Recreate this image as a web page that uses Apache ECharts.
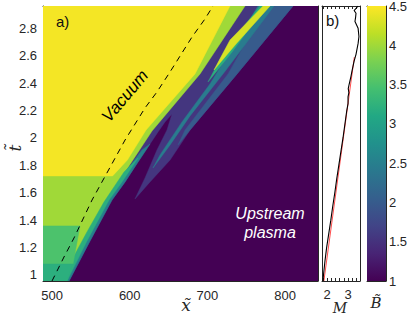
<!DOCTYPE html>
<html><head><meta charset="utf-8">
<script src="https://cdn.jsdelivr.net/npm/echarts@6/dist/echarts.min.js"></script>
<style>html,body{margin:0;padding:0;background:#fff}#c{width:409px;height:315px}</style>
</head><body><div id="c"></div>
<script>
// ---- axis ranges and ticks ----
const xRange = [488.4, 842.3];
const tRange = [0.956, 2.963];
const mRange = [1.76, 3.57];
const bRange = [1, 4.5];
const xTicks = [500, 600, 700, 800];
const tTicks = [1, 1.2, 1.4, 1.6, 1.8, 2, 2.2, 2.4, 2.6, 2.8];
const mTicks = [2, 3];
const mMinorTicks = [1.8, 2, 2.2, 2.4, 2.6, 2.8, 3, 3.2, 3.4];

// ---- contour patches of B (x, t) ----
const upstreamPlasma = [[488.4,0.956],[842.3,0.956],[842.3,2.963],[488.4,2.963]];
const shockedRegion = [[488.4,2.963],[810.2,2.963],[738.1,2.467],[677.6,2.058],[651.9,1.839],[626.1,1.679],[606.8,1.555],[619.7,1.708],[635.1,1.912],[648,2.058],[654.4,2.175],[645.4,2.117],[636.4,2.044],[610.7,1.825],[594,1.679],[577.2,1.547],[548.9,1.248],[521.9,0.956],[488.4,0.956]];
const outerBlueBand = [[775.4,2.963],[810.2,2.963],[738.1,2.467],[677.6,2.058],[662.2,1.949],[671.2,2.058],[726.5,2.467]];
const tealBand = [[765.1,2.963],[785.7,2.963],[724,2.496],[677.6,2.161],[651.9,1.949],[630,1.781],[639,1.876],[667.3,2.117],[703.3,2.394]];
const cyanBand = [[767.7,2.963],[775.4,2.963],[731.7,2.628],[700.8,2.409],[722.7,2.642]];
const yellowStripe = [[771.6,2.963],[780.6,2.963],[736.8,2.686],[708.5,2.496],[729.1,2.715]];
const pistonGreen = [[488.4,2.963],[748.4,2.963],[690.5,2.467],[628.7,2.051],[594,1.752],[568.2,1.533],[546.3,1.314],[529.6,1.139],[518,0.956],[488.4,0.956]];
const wedgeOuter = [[626.1,1.956],[610.7,1.825],[594,1.679],[577.2,1.547],[548.9,1.248],[521.9,0.956],[515.4,0.956],[542.5,1.248],[568.2,1.533],[592.7,1.737],[615.8,1.912]];
const wedgeInner = [[610.7,1.854],[590.1,1.679],[573.4,1.547],[545,1.248],[519.3,0.956],[512.9,0.956],[528.3,1.139],[545,1.314],[566.9,1.533],[592.7,1.752]];
const vacuumYellow = [[488.4,2.963],[729,2.963],[684,2.467],[621,2.058],[597,1.839],[578,1.723],[488.4,1.723]];
const vacuumBand3 = [[488.4,1.358],[536,1.358],[527,1.080],[488.4,1.080]];
const vacuumBand4 = [[488.4,1.080],[527,1.080],[519.3,0.956],[488.4,0.956]];

const patchList = [upstreamPlasma, shockedRegion, outerBlueBand, tealBand, cyanBand, yellowStripe, pistonGreen, wedgeOuter, wedgeInner, vacuumYellow, vacuumBand3, vacuumBand4];
const patchLevels = [1.0, 1.55, 2.0, 2.45, 3.2, 4.3, 4.0, 2.5, 3.2, 4.45, 3.5, 3.2];

// ---- dashed piston trajectory ----
const dashX = [500, 503.9, 515.4, 528.3, 551.5, 594, 619.7, 635.1, 651.9, 680.2, 696.9, 707.2];
const dashT = [0.956, 1.0, 1.131, 1.270, 1.547, 1.985, 2.219, 2.336, 2.482, 2.737, 2.869, 2.963];

// ---- panel b: Mach number ----
const tM = [0.956,1.0,1.1,1.2,1.3,1.4,1.5,1.6,1.7,1.8,1.9,2.0,2.1,2.2,2.25,2.3,2.33,2.36,2.39,2.45,2.49,2.56,2.61,2.69,2.74,2.80,2.85,2.88,2.91,2.93,2.963];
const mBlack = [1.81,1.83,1.90,1.98,2.08,2.18,2.27,2.37,2.46,2.56,2.66,2.76,2.85,2.94,3.00,3.00,3.04,3.01,3.05,3.14,3.19,3.29,3.38,3.48,3.52,3.48,3.33,3.36,3.38,3.29,3.48];
const tRed = [0.956, 2.59];
const mRed = [1.85, 3.30];

const VIRIDIS = ['#440154','#482475','#414487','#355f8d','#2a788e','#21918c','#22a884','#44bf70','#7ad151','#bddf26','#fde725'];
const FONT = 'Liberation Sans';
const SERIF = 'DejaVu Serif';
const frame = '#262626';
const txt = '#262626';

function ax(o) {
  return Object.assign({
    type: 'value', splitLine: {show: false},
    axisLine: {show: true, onZero: false, lineStyle: {color: frame, width: 1}},
    axisTick: {show: false},
    axisLabel: {show: false}
  }, o);
}
function ticks(vals, len) {
  return {show: true, inside: true, length: len, customValues: vals, lineStyle: {color: frame}};
}
function labels(vals, margin, fmt) {
  return {show: true, customValues: vals, margin: margin, fontSize: 13, color: txt, fontFamily: FONT,
    formatter: fmt || (v => String(+(+v).toFixed(2)))};
}

const chart = echarts.init(document.getElementById('c'), null, {renderer: 'svg', width: 409, height: 315});

const option = {
  animation: false,
  backgroundColor: '#fff',
  grid: [
    {left: 43, top: 6, width: 275, height: 275, outerBoundsMode: 'none'},
    {left: 322, top: 6, width: 38, height: 275, outerBoundsMode: 'none'},
    {left: 367, top: 6, width: 19, height: 275, outerBoundsMode: 'none'}
  ],
  xAxis: [
    ax({gridIndex: 0, min: xRange[0], max: xRange[1], position: 'bottom', axisTick: ticks(xTicks, 4), axisLabel: labels(xTicks, 8)}),
    ax({gridIndex: 0, min: xRange[0], max: xRange[1], position: 'top', axisTick: ticks(xTicks, 4)}),
    ax({gridIndex: 1, min: mRange[0], max: mRange[1], position: 'bottom', axisTick: ticks(mMinorTicks, 3), axisLabel: labels(mTicks, 7)}),
    ax({gridIndex: 1, min: mRange[0], max: mRange[1], position: 'top', axisTick: ticks(mMinorTicks, 3)}),
    ax({gridIndex: 2, min: 0, max: 1, position: 'bottom'}),
    ax({gridIndex: 2, min: 0, max: 1, position: 'top'})
  ],
  yAxis: [
    ax({gridIndex: 0, min: tRange[0], max: tRange[1], position: 'left', axisTick: ticks(tTicks, 4), axisLabel: labels(tTicks, 6)}),
    ax({gridIndex: 0, min: tRange[0], max: tRange[1], position: 'right', axisTick: ticks(tTicks, 4)}),
    ax({gridIndex: 1, min: tRange[0], max: tRange[1], position: 'left'}),
    ax({gridIndex: 1, min: tRange[0], max: tRange[1], position: 'right'}),
    ax({gridIndex: 2, min: bRange[0], max: bRange[1], position: 'left'}),
    ax({gridIndex: 2, min: bRange[0], max: bRange[1], interval: 0.5, position: 'right',
        axisTick: {show: true, inside: true, length: 3, lineStyle: {color: frame}},
        axisLabel: {show: true, margin: 3, fontSize: 13, color: txt, fontFamily: FONT}})
  ],
  visualMap: [{
    type: 'continuous', show: false, min: bRange[0], max: bRange[1], dimension: 1, seriesIndex: 0,
    inRange: {color: VIRIDIS}
  }],
  series: [
    {
      type: 'custom', xAxisIndex: 0, yAxisIndex: 0, clip: true, silent: true,
      data: patchList.map((p, i) => [i, patchLevels[i]]),
      renderItem: function (params, api) {
        const poly = patchList[api.value(0)];
        const c = api.visual('color');
        return {type: 'polygon', shape: {points: poly.map(p => api.coord(p))},
          style: {fill: c, stroke: c, lineWidth: 0.5}};
      }
    },
    {
      type: 'line', xAxisIndex: 0, yAxisIndex: 0, symbol: 'none', silent: true, z: 5,
      data: dashX.map((x, i) => [x, dashT[i]]),
      lineStyle: {color: '#000', width: 1, type: [6, 5]}
    },
    {
      type: 'line', xAxisIndex: 2, yAxisIndex: 2, symbol: 'none', silent: true, z: 4,
      data: tRed.map((t, i) => [mRed[i], t]),
      lineStyle: {color: '#ff2020', width: 0.8}
    },
    {
      type: 'line', xAxisIndex: 2, yAxisIndex: 2, symbol: 'none', silent: true, z: 5,
      data: tM.map((t, i) => [mBlack[i], t]),
      lineStyle: {color: '#000', width: 1.1}
    },
    {
      type: 'custom', xAxisIndex: 4, yAxisIndex: 4, silent: true,
      data: [[0, bRange[0]]],
      renderItem: function (params, api) {
        const p0 = api.coord([0, bRange[0]]);
        const p1 = api.coord([1, bRange[1]]);
        return {type: 'rect', shape: {x: p0[0], y: p1[1], width: p1[0] - p0[0], height: p0[1] - p1[1]},
          style: {fill: {type: 'linear', x: 0, y: 1, x2: 0, y2: 0,
            colorStops: VIRIDIS.map((c, i) => ({offset: i / (VIRIDIS.length - 1), color: c}))}}};
      }
    }
  ],
  graphic: [
    {type: 'text', z: 100, left: 56, top: 14, style: {text: 'a)', fontSize: 15, fill: '#111', fontFamily: FONT}},
    {type: 'text', z: 100, left: 326, top: 13, style: {text: 'b)', fontSize: 15, fill: '#111', fontFamily: FONT}},
    {type: 'text', z: 100, x: 125, y: 96, rotation: 50 * Math.PI / 180,
      style: {text: 'Vacuum', fontSize: 17, fontStyle: 'italic', fill: '#000', fontFamily: FONT, align: 'center', verticalAlign: 'middle'}},
    {type: 'text', z: 100, x: 270, y: 213,
      style: {text: 'Upstream', fontSize: 16, fontStyle: 'italic', fill: '#fff', fontFamily: FONT, align: 'center', verticalAlign: 'middle'}},
    {type: 'text', z: 100, x: 270, y: 232,
      style: {text: 'plasma', fontSize: 16, fontStyle: 'italic', fill: '#fff', fontFamily: FONT, align: 'center', verticalAlign: 'middle'}},
    {type: 'text', z: 100, x: 186, y: 305,
      style: {text: 'x\u0303', fontSize: 17, fontStyle: 'italic', fill: txt, fontFamily: SERIF, align: 'center', verticalAlign: 'middle'}},
    {type: 'text', z: 100, x: 15, y: 148, rotation: Math.PI / 2,
      style: {text: 't\u0303', fontSize: 17, fontStyle: 'italic', fill: txt, fontFamily: SERIF, align: 'center', verticalAlign: 'middle'}},
    {type: 'text', z: 100, x: 340, y: 308,
      style: {text: 'M', fontSize: 14, fontStyle: 'italic', fill: txt, fontFamily: SERIF, align: 'center', verticalAlign: 'middle'}},
    {type: 'text', z: 100, x: 376, y: 303,
      style: {text: 'B\u0303', fontSize: 15, fontStyle: 'italic', fill: txt, fontFamily: SERIF, align: 'center', verticalAlign: 'middle'}}
  ]
};
chart.setOption(option);
</script>
</body></html>
